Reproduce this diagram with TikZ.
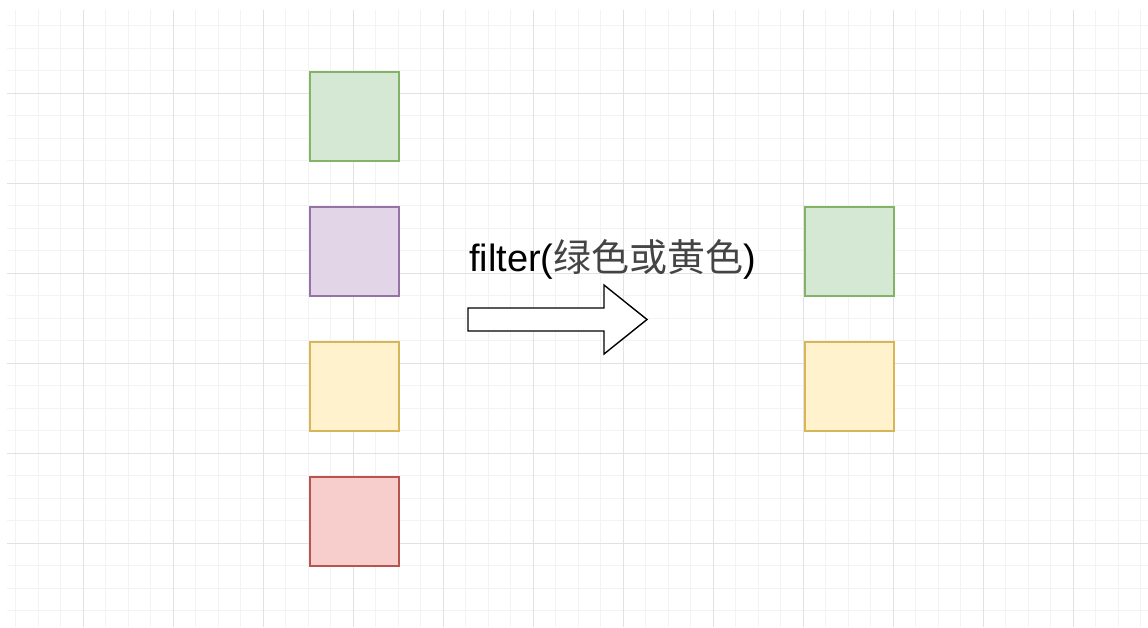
\documentclass[tikz,border=0pt]{standalone}
\usepackage{fontspec}
\setmainfont{Liberation Sans}
\newfontfamily\cjk{Noto Sans CJK SC}
\definecolor{gmajor}{HTML}{E2E2E2}
\definecolor{gminor}{HTML}{F3F3F3}
\definecolor{gfill}{HTML}{D5E8D4}\definecolor{gline}{HTML}{82B366}
\definecolor{pfill}{HTML}{E1D5E7}\definecolor{pline}{HTML}{9673A6}
\definecolor{yfill}{HTML}{FFF2CC}\definecolor{yline}{HTML}{D6B656}
\definecolor{rfill}{HTML}{F8CECC}\definecolor{rline}{HTML}{B85450}
\definecolor{cjkgray}{HTML}{444444}
\tikzset{
  sq/.style={draw, line width=2pt, minimum size=89pt, inner sep=0pt, rectangle},
  greensq/.style={sq, fill=gfill, draw=gline},
  purplesq/.style={sq, fill=pfill, draw=pline},
  yellowsq/.style={sq, fill=yfill, draw=yline},
  redsq/.style={sq, fill=rfill, draw=rline},
  minorline/.style={draw=gminor, line width=1pt},
  majorline/.style={draw=gmajor, line width=1pt},
  blockarrow/.style={draw=black, line width=1.4pt, fill=white, line join=miter},
}
\begin{document}
\begin{tikzpicture}[x=1pt,y=-1pt]
\useasboundingbox (0,0) rectangle (1148,627);
\fill[white] (0,0) rectangle (1148,627);
% minor grid
\foreach \i in {-3,...,47} {
  \pgfmathsetmacro{\xx}{83+22.5*\i}
  \ifdim \xx pt > 7pt \ifdim \xx pt < 1148pt
    \draw[minorline] (\xx,10) -- (\xx,627);
  \fi\fi
}
\foreach \i in {-3,...,25} {
  \pgfmathsetmacro{\yy}{93+22.5*\i}
  \ifdim \yy pt > 10pt \ifdim \yy pt < 627pt
    \draw[minorline] (7,\yy) -- (1148,\yy);
  \fi\fi
}
% major grid
\foreach \xx in {83,173,...,1073} \draw[majorline] (\xx,10) -- (\xx,627);
\foreach \yy in {93,183,...,543} \draw[majorline] (7,\yy) -- (1148,\yy);
% squares
\node[greensq]  (g1) at (354.5,116) {};
\node[purplesq] (p1) at (354.5,251.5) {};
\node[yellowsq] (y1) at (354.5,386.5) {};
\node[redsq]    (r1) at (354.5,521.5) {};
\node[greensq]  (g2) at (849.5,251.5) {};
\node[yellowsq] (y2) at (849.5,386.5) {};
% label
\node[anchor=base west, inner sep=0pt, font=\fontsize{38}{40}\selectfont] (lbl) at (469,271) {filter({\cjk\color{cjkgray}绿色或黄色})};
% block arrow
\draw[blockarrow] (468,308) -- (604,308) -- (604,285) -- (647,319.5) -- (604,354) -- (604,331) -- (468,331) -- cycle;
\end{tikzpicture}
\end{document}
